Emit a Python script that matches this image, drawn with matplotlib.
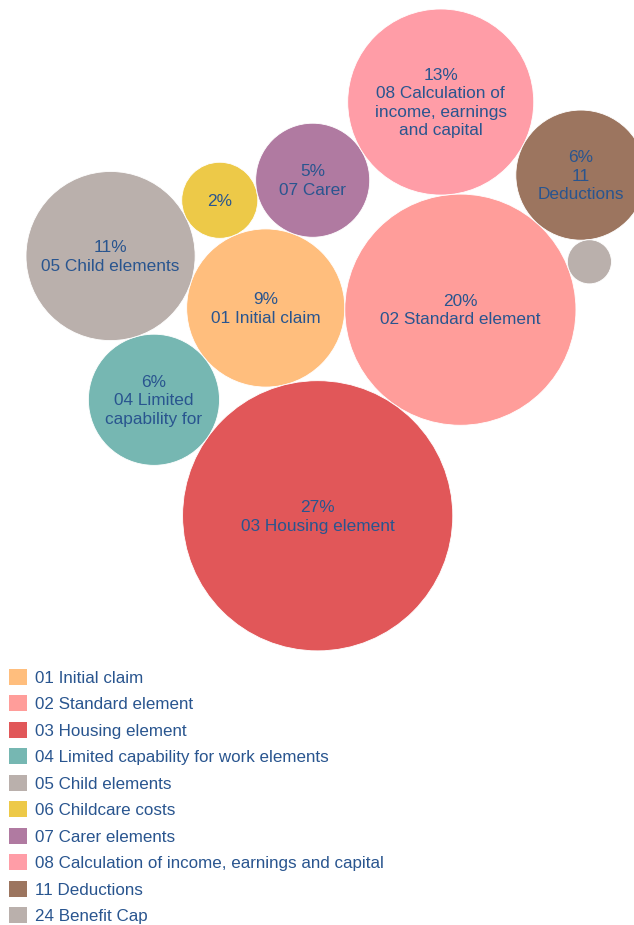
import math
import matplotlib
matplotlib.use("Agg")
import matplotlib.pyplot as plt
from matplotlib.patches import Circle, Patch

# ------------------------------------------------------------------
# Data
# ------------------------------------------------------------------
codes = ["01", "02", "03", "04", "05", "06", "07", "08", "11", "24"]
legend_names = [
    "01 Initial claim",
    "02 Standard element",
    "03 Housing element",
    "04 Limited capability for work elements",
    "05 Child elements",
    "06 Childcare costs",
    "07 Carer elements",
    "08 Calculation of income, earnings and capital",
    "11 Deductions",
    "24 Benefit Cap",
]
# bubble labels as shown inside the bubbles (wrapped / truncated like the original)
bubble_names = [
    "01 Initial claim",
    "02 Standard element",
    "03 Housing element",
    "04 Limited\ncapability for",
    "05 Child elements",
    "",
    "07 Carer",
    "08 Calculation of\nincome, earnings\nand capital",
    "11\nDeductions",
    "",
]
share_pct = [9.25, 19.76, 27.0, 6.36, 10.58, 2.14, 4.81, 12.8, 6.26, 0.72]
show_label = [True, True, True, True, True, True, True, True, True, False]
colors = ["#FFBE7D", "#FF9D9A", "#E15759", "#76B7B2", "#BAB0AC",
          "#EDC948", "#B07AA1", "#FF9DA7", "#9C755F", "#BAB0AC"]

TEXT_COLOR = "#29558f"
FONT = "Liberation Sans"
PX = 0.72  # px -> pt at dpi 100

# ------------------------------------------------------------------
# Packed-bubble layout: each bubble tangent to two earlier ones
# ------------------------------------------------------------------
RADIUS_SCALE = 26.0  # px per sqrt(%)
radius = {c: RADIUS_SCALE * math.sqrt(v) for c, v in zip(codes, share_pct)}

START_ANGLE = 55.3  # direction of second bubble from the first
placement = [
    ("03", None),
    ("02", "angle"),
    ("01", ("03", "02")),
    ("04", ("03", "01")),
    ("05", ("04", "01")),
    ("06", ("05", "01")),
    ("07", ("06", "01")),
    ("08", ("07", "02")),
    ("11", ("08", "02")),
    ("24", ("11", "02")),
]


def tangent_to_pair(a, b, r):
    """Centre of a circle of radius r touching circles a and b, left of a->b."""
    xa, ya, ra = a
    xb, yb, rb = b
    da, db = ra + r, rb + r
    dx, dy = xb - xa, yb - ya
    d = math.hypot(dx, dy)
    l = (da ** 2 - db ** 2 + d ** 2) / (2 * d)
    h = math.sqrt(max(da ** 2 - l ** 2, 0.0))
    ux, uy = dx / d, dy / d
    return xa + l * ux - h * uy, ya + l * uy + h * ux


pos = {}
first = None
for code, rule in placement:
    r = radius[code]
    if rule is None:
        pos[code] = (0.0, 0.0, r)
        first = code
    elif rule == "angle":
        d = radius[first] + r
        t = math.radians(START_ANGLE)
        pos[code] = (d * math.cos(t), d * math.sin(t), r)
    else:
        x, y = tangent_to_pair(pos[rule[0]], pos[rule[1]], r)
        pos[code] = (x, y, r)

# ------------------------------------------------------------------
# Plot
# ------------------------------------------------------------------
W, H = 634, 925
fig = plt.figure(figsize=(W / 100, H / 100), dpi=100)
ax = fig.add_axes([0, 0, 1, 1])
ax.set_axis_off()

left = min(x - r for x, y, r in pos.values())
top = max(y + r for x, y, r in pos.values())
ax.set_xlim(left - 26, left - 26 + W)
ax.set_ylim(top + 9 - H, top + 9)

for i, code in enumerate(codes):
    x, y, r = pos[code]
    ax.add_patch(Circle((x, y), r, facecolor=colors[i], edgecolor="white",
                        linewidth=0.6, zorder=2))
    if not show_label[i]:
        continue
    label = f"{round(share_pct[i])}%"
    if bubble_names[i]:
        label += "\n" + bubble_names[i]
    ax.text(x, y - 1, label, ha="center", va="center", multialignment="center",
            fontsize=17.2 * PX, family=FONT, color=TEXT_COLOR,
            linespacing=1.3, zorder=3)

handles = [Patch(facecolor=c, edgecolor="none") for c in colors]
leg = fig.legend(handles, legend_names, loc="upper left",
                 bbox_to_anchor=(9 / W, 1 - 669 / H), frameon=False,
                 prop={"family": FONT, "size": 17 * PX},
                 handlelength=1.07, handleheight=1.07, handletextpad=0.45,
                 labelspacing=0.57, borderpad=0, borderaxespad=0)
for t in leg.get_texts():
    t.set_color(TEXT_COLOR)

fig.savefig("out.png", dpi=100)
